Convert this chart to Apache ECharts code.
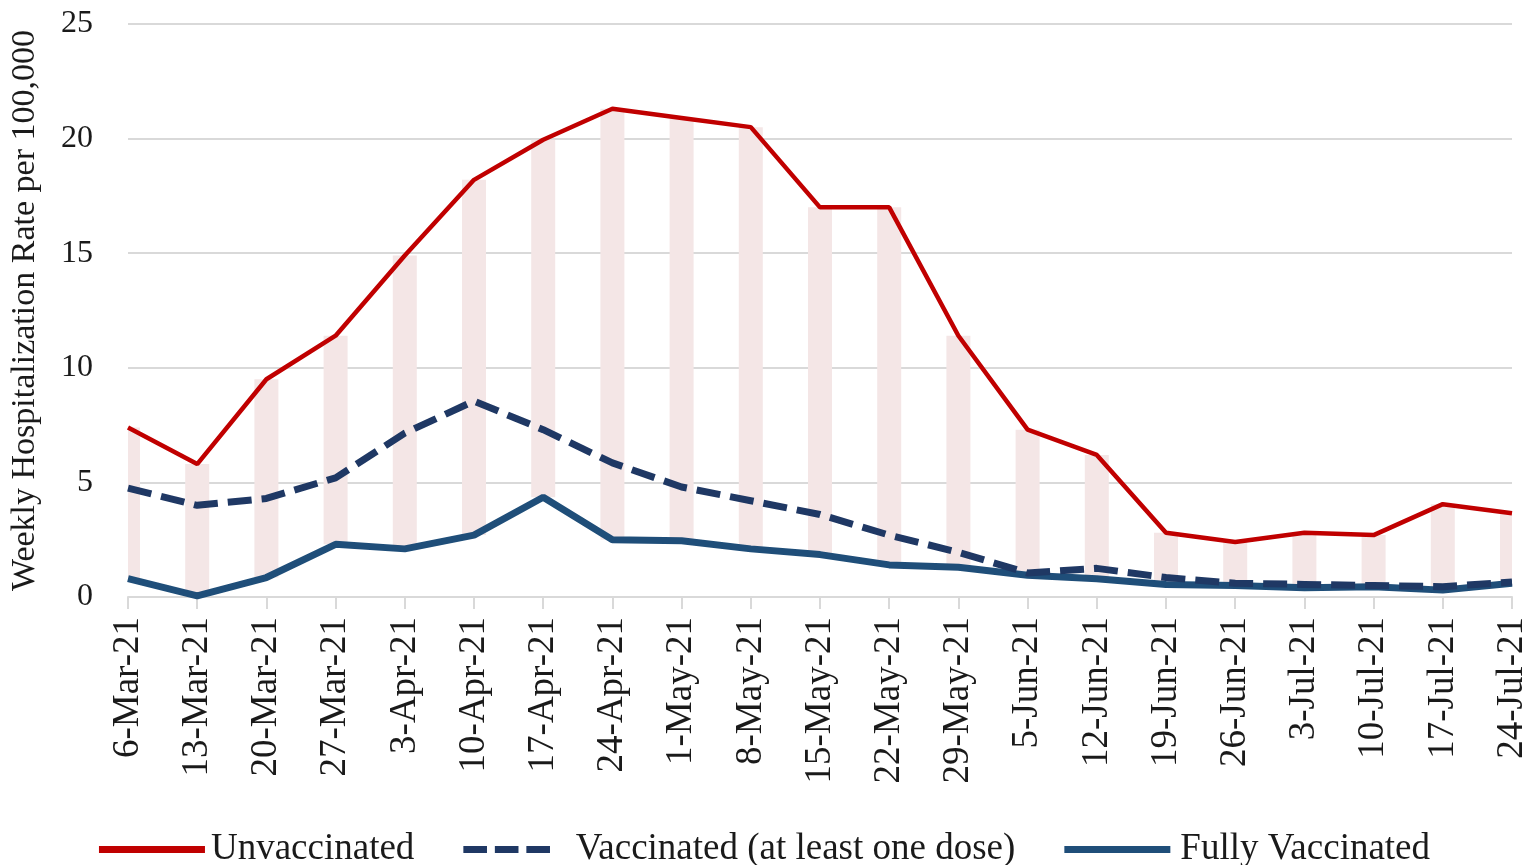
<!DOCTYPE html>
<html>
<head>
<meta charset="utf-8">
<script src="https://cdn.jsdelivr.net/npm/echarts@6/dist/echarts.min.js"></script>
<style>
html,body{margin:0;padding:0;background:#fff;}
#c{width:1529px;height:865px;}
</style>
</head>
<body>
<div id="c"></div>
<script>
var categories = ['6-Mar-21','13-Mar-21','20-Mar-21','27-Mar-21','3-Apr-21','10-Apr-21','17-Apr-21','24-Apr-21','1-May-21','8-May-21','15-May-21','22-May-21','29-May-21','5-Jun-21','12-Jun-21','19-Jun-21','26-Jun-21','3-Jul-21','10-Jul-21','17-Jul-21','24-Jul-21'];
var unvaccinated = [7.4,5.8,9.5,11.4,14.9,18.2,19.95,21.3,20.9,20.5,17.0,17.0,11.4,7.3,6.2,2.8,2.4,2.8,2.7,4.05,3.65];
var vaccinatedOneDose = [4.75,4.0,4.3,5.2,7.15,8.55,7.3,5.85,4.8,4.2,3.6,2.7,1.95,1.05,1.25,0.85,0.6,0.55,0.5,0.45,0.65];
var fullyVaccinated = [0.8,0.05,0.85,2.3,2.1,2.7,4.35,2.5,2.45,2.1,1.85,1.4,1.3,0.95,0.8,0.55,0.5,0.4,0.45,0.3,0.6];
var yTicks = [0,5,10,15,20,25];

// band between fully vaccinated (low) and unvaccinated (high)
var bandData = categories.map(function(c,i){ return [i, fullyVaccinated[i], unvaccinated[i]]; });

var font = 'Liberation Serif';
var BAR_W = 24;
var chart = echarts.init(document.getElementById('c'), null, {renderer:'canvas'});
chart.setOption({
  animation:false,
  backgroundColor:'#fff',
  grid:{left:128, right:17, top:24, bottom:268, containLabel:false, outerBoundsMode:'none'},
  legend:{
    data:[
      {name:'Unvaccinated', icon:'rect', textStyle:{padding:[0,0,0,1]}},
      {name:'Vaccinated (at least one dose)', icon:'path://M0,0H27V8H0Z M36,0H63V8H36Z M72,0H99V8H72Z', textStyle:{padding:[0,0,0,11]}},
      {name:'Fully Vaccinated', icon:'rect', textStyle:{padding:[0,0,0,5]}}
    ],
    top:826, left:'center', itemWidth:106, itemHeight:7, itemGap:49,
    textStyle:{fontFamily:font, fontSize:37, color:'#1a1a1a'}
  },
  xAxis:{
    type:'category', data:categories, boundaryGap:false,
    axisLine:{lineStyle:{color:'#d9d9d9', width:2}},
    axisTick:{show:true, length:12, lineStyle:{color:'#d9d9d9', width:2}},
    axisLabel:{rotate:90, margin:20, interval:0, fontFamily:font, fontSize:37, color:'#1a1a1a'},
    splitLine:{show:false}
  },
  yAxis:{
    type:'value', min:yTicks[0], max:yTicks[yTicks.length-1], interval:5,
    name:'Weekly Hospitalization Rate per 100,000', nameLocation:'middle', nameGap:86,
    nameTextStyle:{fontFamily:font, fontSize:34, color:'#1a1a1a'},
    axisLine:{show:false}, axisTick:{show:false},
    axisLabel:{margin:35, fontFamily:font, fontSize:32, color:'#1a1a1a'},
    splitLine:{lineStyle:{color:'#d9d9d9', width:2}}
  },
  series:[
    {name:'band', type:'custom', data:bandData, silent:true, z:1,
     encode:{x:0, y:[1,2]},
     renderItem:function(params, api){
       var lo = api.coord([api.value(0), api.value(1)]);
       var hi = api.coord([api.value(0), api.value(2)]);
       var cs = params.coordSys;
       var shape = echarts.graphic.clipRectByRect(
         {x: lo[0] - BAR_W/2, y: hi[1], width: BAR_W, height: lo[1] - hi[1]},
         {x: cs.x, y: cs.y, width: cs.width, height: cs.height});
       return shape && {type:'rect', shape:shape, style:{fill:'#F4E6E6'}};
     }},
    {name:'Unvaccinated', type:'line', data:unvaccinated, symbol:'none', z:5,
     lineStyle:{color:'#C00000', width:4.5}, itemStyle:{color:'#C00000'}},
    {name:'Vaccinated (at least one dose)', type:'line', data:vaccinatedOneDose, symbol:'none', z:4,
     lineStyle:{color:'#1F3864', width:7, type:[24,10]}, itemStyle:{color:'#1F3864'}},
    {name:'Fully Vaccinated', type:'line', data:fullyVaccinated, symbol:'none', z:3,
     lineStyle:{color:'#1F4E79', width:7}, itemStyle:{color:'#1F4E79'}}
  ]
});
</script>
</body>
</html>
